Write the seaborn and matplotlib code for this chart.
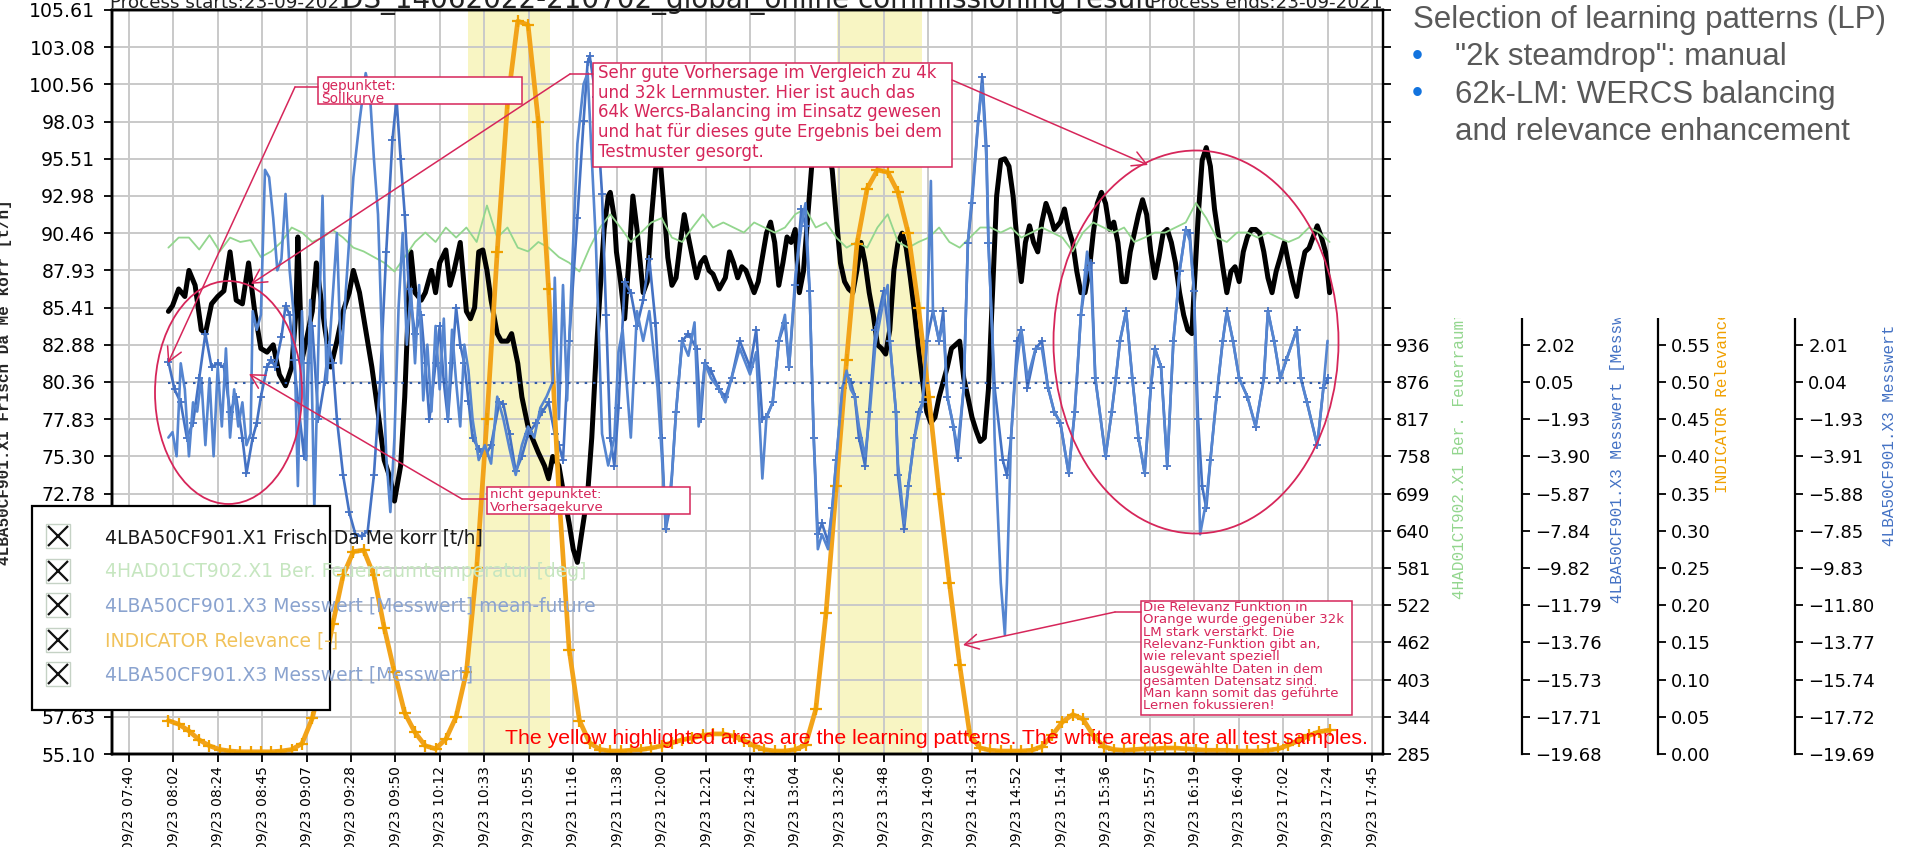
import numpy as np
import pandas as pd
import matplotlib
matplotlib.use("Agg")
import matplotlib.pyplot as plt
import seaborn as sns
from matplotlib.patches import Rectangle, Ellipse, FancyArrowPatch
from matplotlib.lines import Line2D
from matplotlib.legend_handler import HandlerTuple

# ---------------------------------------------------------------- data
tick_labels = ["09/23 07:40", "09/23 08:02", "09/23 08:24", "09/23 08:45", "09/23 09:07",
               "09/23 09:28", "09/23 09:50", "09/23 10:12", "09/23 10:33", "09/23 10:55",
               "09/23 11:16", "09/23 11:38", "09/23 12:00", "09/23 12:21", "09/23 12:43",
               "09/23 13:04", "09/23 13:26", "09/23 13:48", "09/23 14:09", "09/23 14:31",
               "09/23 14:52", "09/23 15:14", "09/23 15:36", "09/23 15:57", "09/23 16:19",
               "09/23 16:40", "09/23 17:02", "09/23 17:24", "09/23 17:45"]
first_tick = "07:40:50"
tick_step_min = 21.6

learning_windows = [("10:25:54", "11:05:40"), ("13:25:26", "14:06:52")]

# 4LBA50CF901.X1 Frisch Da Me korr [t/h]
flow_readings = [
    ("08:00", 85.15), ("08:02", 85.53), ("08:05", 86.67), ("08:08", 86.16), ("08:10", 87.93),
    ("08:13", 86.92), ("08:16", 83.89), ("08:18", 83.64), ("08:21", 85.66), ("08:24", 86.16),
    ("08:27", 86.54), ("08:30", 89.19), ("08:33", 85.91), ("08:36", 85.66), ("08:39", 88.44),
    ("08:42", 85.15), ("08:45", 82.63), ("08:48", 82.38), ("08:51", 82.88), ("08:54", 80.86),
    ("08:57", 80.10), ("09:00", 81.37), ("09:02", 85.00), ("09:03", 90.20), ("09:05", 81.87),
    ("09:07", 83.13), ("09:10", 85.15), ("09:12", 88.44), ("09:16", 84.14), ("09:19", 81.37),
    ("09:22", 83.13), ("09:25", 85.15), ("09:28", 86.42), ("09:30", 87.93), ("09:33", 86.42),
    ("09:36", 83.89), ("09:39", 81.37), ("09:42", 78.33), ("09:45", 75.05), ("09:48", 73.79),
    ("09:50", 72.27), ("09:53", 74.67), ("09:55", 79.34), ("09:57", 86.42), ("09:58", 89.19),
    ("10:00", 86.42), ("10:03", 85.91), ("10:05", 86.42), ("10:08", 87.93), ("10:10", 86.42),
    ("10:12", 88.44), ("10:15", 89.32), ("10:17", 86.92), ("10:19", 87.93), ("10:22", 89.83),
    ("10:25", 85.15), ("10:27", 84.65), ("10:29", 85.41), ("10:31", 89.19), ("10:33", 89.32),
    ("10:35", 87.93), ("10:37", 85.91), ("10:40", 83.64), ("10:42", 83.13), ("10:45", 83.13),
    ("10:47", 83.64), ("10:50", 81.62), ("10:52", 79.34), ("10:55", 77.32), ("10:57", 76.57),
    ("11:00", 75.56), ("11:03", 74.67), ("11:05", 73.79), ("11:07", 75.30), ("11:10", 74.67),
    ("11:12", 73.03), ("11:15", 70.76), ("11:17", 68.99), ("11:19", 68.11), ("11:21", 70.00),
    ("11:24", 72.78), ("11:26", 76.57), ("11:28", 81.87), ("11:30", 86.42), ("11:32", 90.71),
    ("11:34", 92.98), ("11:35", 93.23), ("11:37", 91.47), ("11:38", 89.19), ("11:40", 87.17),
    ("11:42", 84.65), ("11:44", 88.50), ("11:46", 92.98), ("11:48", 90.71), ("11:51", 86.42),
    ("11:53", 87.17), ("11:55", 91.47), ("11:57", 94.75), ("11:59", 96.00), ("12:01", 92.48),
    ("12:03", 88.81), ("12:05", 86.92), ("12:07", 87.43), ("12:09", 89.70), ("12:11", 91.72),
    ("12:13", 90.20), ("12:15", 88.81), ("12:17", 87.43), ("12:19", 88.44), ("12:21", 88.81),
    ("12:23", 87.93), ("12:25", 87.68), ("12:28", 86.67), ("12:31", 87.43), ("12:33", 89.19),
    ("12:35", 88.44), ("12:37", 87.43), ("12:39", 88.18), ("12:41", 87.93), ("12:43", 87.17),
    ("12:45", 86.42), ("12:47", 87.17), ("12:49", 88.81), ("12:51", 90.46), ("12:53", 91.21),
    ("12:55", 89.83), ("12:57", 86.92), ("12:59", 88.44), ("13:01", 90.20), ("13:03", 89.83),
    ("13:05", 90.71), ("13:07", 86.42), ("13:09", 87.86), ("13:11", 91.47), ("13:13", 95.00),
    ("13:16", 99.30), ("13:20", 96.77), ("13:23", 94.75), ("13:25", 91.47), ("13:27", 88.44),
    ("13:29", 87.17), ("13:31", 86.67), ("13:33", 86.42), ("13:35", 87.93), ("13:37", 89.83),
    ("13:39", 88.44), ("13:41", 86.42), ("13:43", 84.90), ("13:45", 82.88), ("13:47", 82.63),
    ("13:49", 82.25), ("13:51", 83.89), ("13:53", 87.93), ("13:55", 89.83), ("13:57", 90.46),
    ("13:59", 89.45), ("14:01", 87.43), ("14:03", 85.15), ("14:05", 82.63), ("14:07", 80.36),
    ("14:09", 78.33), ("14:11", 77.58), ("14:13", 77.96), ("14:15", 79.34), ("14:17", 80.36),
    ("14:19", 81.37), ("14:21", 82.63), ("14:23", 82.88), ("14:25", 83.13), ("14:27", 80.61),
    ("14:29", 79.34), ("14:31", 77.96), ("14:33", 77.07), ("14:35", 76.32), ("14:37", 76.57),
    ("14:39", 79.85), ("14:41", 86.42), ("14:43", 92.98), ("14:45", 95.41), ("14:47", 95.51),
    ("14:49", 95.00), ("14:51", 92.98), ("14:53", 89.83), ("14:55", 87.17), ("14:57", 89.83),
    ("14:59", 90.96), ("15:01", 89.83), ("15:03", 89.19), ("15:05", 91.21), ("15:07", 92.48),
    ("15:09", 91.72), ("15:11", 90.71), ("15:14", 91.21), ("15:16", 92.10), ("15:18", 90.71),
    ("15:20", 89.83), ("15:22", 87.86), ("15:24", 86.42), ("15:26", 86.42), ("15:28", 87.86),
    ("15:30", 90.46), ("15:32", 92.48), ("15:34", 93.23), ("15:36", 92.48), ("15:38", 90.71),
    ("15:40", 91.21), ("15:42", 89.83), ("15:44", 87.17), ("15:46", 87.17), ("15:48", 89.19),
    ("15:50", 90.46), ("15:52", 91.72), ("15:54", 92.73), ("15:56", 91.72), ("15:58", 89.19),
    ("16:00", 87.43), ("16:02", 88.81), ("16:04", 90.46), ("16:06", 90.71), ("16:08", 89.83),
    ("16:10", 88.44), ("16:12", 86.42), ("16:14", 84.90), ("16:16", 83.89), ("16:18", 83.64),
    ("16:19", 86.42), ("16:21", 91.47), ("16:23", 95.41), ("16:25", 96.27), ("16:27", 95.00),
    ("16:29", 92.10), ("16:31", 90.20), ("16:33", 88.18), ("16:35", 86.42), ("16:37", 87.86),
    ("16:39", 88.18), ("16:41", 87.17), ("16:43", 89.19), ("16:45", 90.20), ("16:47", 90.71),
    ("16:49", 90.71), ("16:51", 90.46), ("16:53", 89.19), ("16:55", 87.43), ("16:57", 86.42),
    ("16:59", 87.86), ("17:01", 88.81), ("17:03", 89.83), ("17:05", 88.44), ("17:07", 87.17),
    ("17:09", 86.16), ("17:11", 87.86), ("17:13", 89.19), ("17:15", 89.45), ("17:17", 90.20),
    ("17:19", 90.96), ("17:21", 90.20), ("17:23", 89.19), ("17:25", 86.42)]

# 4HAD01CT902.X1 Ber. Feuerraumtemperatur [deg], every 5 min from 08:00
temp_start = "08:00"
temp_values = [
    1090, 1106, 1106, 1087, 1110, 1084, 1106, 1099, 1102, 1075, 1084, 1099,
    1122, 1114, 1099, 1106, 1118, 1106, 1090, 1084, 1075, 1066, 1052, 1075,
    1099, 1114, 1099, 1122, 1106, 1122, 1099, 1157, 1106, 1122, 1090, 1084,
    1099, 1090, 1075, 1066, 1052, 1090, 1122, 1143, 1122, 1099, 1114, 1130,
    1137, 1106, 1099, 1122, 1143, 1122, 1130, 1122, 1114, 1130, 1122, 1114,
    1122, 1143, 1152, 1122, 1130, 1106, 1090, 1099, 1090, 1122, 1143, 1099,
    1090, 1099, 1106, 1122, 1099, 1090, 1106, 1122, 1122, 1114, 1122, 1106,
    1114, 1122, 1114, 1106, 1084, 1114, 1130, 1122, 1114, 1122, 1099, 1106,
    1114, 1114, 1122, 1130, 1161, 1137, 1106, 1099, 1114, 1114, 1106, 1114,
    1106, 1099, 1106, 1122, 1114, 1099]

# INDICATOR Relevance [-], every 5 min from 08:00
relevance_start = "08:00"
relevance_values = [
    0.045, 0.040, 0.031, 0.019, 0.011, 0.006, 0.004, 0.003, 0.003, 0.003, 0.003, 0.004,
    0.006, 0.014, 0.048, 0.105, 0.175, 0.240, 0.272, 0.274, 0.240, 0.170, 0.110, 0.055,
    0.029, 0.011, 0.007, 0.020, 0.050, 0.110, 0.250, 0.450, 0.675, 0.875, 0.985, 0.980,
    0.850, 0.625, 0.350, 0.140, 0.045, 0.015, 0.006, 0.004, 0.004, 0.005, 0.006, 0.008,
    0.011, 0.015, 0.019, 0.022, 0.025, 0.027, 0.027, 0.024, 0.018, 0.011, 0.006, 0.004,
    0.004, 0.006, 0.012, 0.060, 0.190, 0.360, 0.530, 0.685, 0.760, 0.785, 0.782, 0.755,
    0.700, 0.600, 0.480, 0.350, 0.230, 0.120, 0.025, 0.008, 0.005, 0.004, 0.004, 0.004,
    0.005, 0.010, 0.025, 0.043, 0.053, 0.047, 0.025, 0.010, 0.006, 0.005, 0.006, 0.007,
    0.007, 0.008, 0.008, 0.007, 0.006, 0.005, 0.005, 0.005, 0.004, 0.004, 0.004, 0.005,
    0.007, 0.012, 0.018, 0.025, 0.030, 0.032]

# 4LBA50CF901.X3 Messwert [Messwert] mean-future
pred_readings = [
    ("08:00", 1.13), ("08:03", -0.35), ("08:06", -1.04), ("08:09", -2.91), ("08:12", -2.12),
    ("08:15", 0.24), ("08:18", 2.61), ("08:21", 0.84), ("08:24", 1.03), ("08:27", 0.84),
    ("08:30", -1.53), ("08:33", -0.74), ("08:36", -2.91), ("08:38", -4.79), ("08:41", -2.91),
    ("08:43", -2.12), ("08:45", -0.74), ("08:48", 0.84), ("08:50", 1.23), ("08:52", 0.84),
    ("08:55", 2.41), ("08:57", 4.09), ("08:59", 3.60), ("09:01", 1.23), ("09:03", -0.94),
    ("09:06", -3.90), ("09:08", 1.03), ("09:10", 3.01), ("09:13", -1.93), ("09:16", 0.05),
    ("09:18", 2.02), ("09:20", 1.03), ("09:22", -1.93), ("09:25", -4.89), ("09:28", -6.86),
    ("09:31", -8.04), ("09:34", -8.14), ("09:37", -7.84), ("09:40", -4.89), ("09:43", 0.05),
    ("09:46", 6.95), ("09:49", 12.87), ("09:51", 15.04), ("09:53", 11.88), ("09:55", 8.92),
    ("09:57", 4.98), ("10:00", 2.61), ("10:03", 3.60), ("10:05", 1.03), ("10:07", -1.93),
    ("10:10", 1.03), ("10:12", 3.01), ("10:14", 0.05), ("10:16", -1.93), ("10:18", 1.03),
    ("10:20", 3.99), ("10:22", 2.02), ("10:24", 1.03), ("10:26", -0.94), ("10:28", -2.91),
    ("10:31", -3.50), ("10:34", -3.90), ("10:37", -3.31), ("10:41", -1.04), ("10:43", -1.14),
    ("10:46", -2.71), ("10:49", -4.69), ("10:52", -3.90), ("10:55", -2.71), ("10:59", -2.12),
    ("11:02", -1.53), ("11:05", -1.04), ("11:08", -2.71), ("11:10", -3.31), ("11:12", -4.10),
    ("11:15", 2.22), ("11:19", 8.73), ("11:22", 13.86), ("11:24", 17.01), ("11:25", 17.33),
    ("11:28", 15.14), ("11:31", 10.01), ("11:33", 3.60), ("11:35", -2.91), ("11:37", -4.39),
    ("11:39", -1.33), ("11:42", 5.37), ("11:45", 4.78), ("11:48", 3.01), ("11:51", 4.39),
    ("11:54", 6.56), ("11:57", 3.20), ("12:00", -2.91), ("12:02", -7.75), ("12:04", -6.66),
    ("12:07", -1.53), ("12:10", 2.22), ("12:13", 2.61), ("12:17", 1.82), ("12:19", -1.93),
    ("12:21", 1.03), ("12:24", 0.64), ("12:28", -0.35), ("12:31", -0.74), ("12:34", 0.24),
    ("12:38", 2.22), ("12:43", 0.84), ("12:46", 2.81), ("12:49", -1.93), ("12:51", -1.83),
    ("12:54", -1.04), ("12:57", 2.22), ("13:00", 3.20), ("13:02", 0.84), ("13:05", 5.18),
    ("13:08", 9.22), ("13:10", 8.33), ("13:12", 4.88), ("13:14", -2.91), ("13:16", -8.04),
    ("13:18", -7.45), ("13:21", -8.44), ("13:23", -6.66), ("13:25", -4.10), ("13:28", -0.25),
    ("13:30", 0.44), ("13:32", 0.05), ("13:34", -0.74), ("13:36", -2.91), ("13:39", -4.39),
    ("13:41", -1.53), ("13:44", 2.81), ("13:48", 4.88), ("13:51", 2.22), ("13:54", -1.53),
    ("13:55", -4.89), ("13:58", -7.75), ("14:00", -5.48), ("14:03", -2.91), ("14:05", -1.53),
    ("14:07", -1.04), ("14:09", 2.22), ("14:12", 3.80), ("14:15", 2.22), ("14:17", 3.80),
    ("14:19", -0.74), ("14:22", -2.32), ("14:24", -4.00), ("14:27", -0.25), ("14:29", 7.44),
    ("14:31", 9.52), ("14:34", 13.86), ("14:36", 16.22), ("14:38", 12.57), ("14:39", 7.44),
    ("14:42", -0.25), ("14:46", -4.10), ("14:48", -4.89), ("14:50", -2.91), ("14:53", 2.22),
    ("14:55", 2.81), ("14:58", -0.25), ("15:02", 1.82), ("15:05", 2.22), ("15:08", -0.25),
    ("15:11", -1.53), ("15:14", -2.12), ("15:18", -4.79), ("15:21", -1.53), ("15:24", 3.60),
    ("15:27", 5.96), ("15:29", 6.36), ("15:31", 0.24), ("15:36", -3.90), ("15:39", -1.53),
    ("15:41", 0.24), ("15:43", 2.22), ("15:46", 3.80), ("15:49", 0.24), ("15:52", -2.91),
    ("15:55", -4.79), ("15:58", -0.25), ("16:00", 1.82), ("16:03", 0.84), ("16:06", -4.39),
    ("16:09", 2.22), ("16:12", 5.91), ("16:15", 8.13), ("16:17", 7.94), ("16:19", 4.88),
    ("16:21", -1.93), ("16:23", -5.48), ("16:25", -6.66), ("16:27", -4.10), ("16:30", -0.74),
    ("16:33", 2.22), ("16:35", 3.80), ("16:38", 2.22), ("16:41", 0.24), ("16:45", -0.74),
    ("16:49", -2.32), ("16:53", 0.24), ("16:55", 3.80), ("16:58", 2.22), ("17:01", 0.24),
    ("17:04", 1.23), ("17:09", 2.81), ("17:11", 0.24), ("17:14", -1.04), ("17:19", -3.31),
    ("17:22", -0.25), ("17:24", 0.24)]

# 4LBA50CF901.X3 Messwert [Messwert]
meas_readings = [
    ("08:00", -2.91), ("08:02", -2.62), ("08:04", -3.90), ("08:06", 1.03), ("08:08", -0.35),
    ("08:10", -3.90), ("08:12", -1.04), ("08:14", -1.53), ("08:16", 0.24), ("08:18", -3.31),
    ("08:20", 0.24), ("08:22", -3.90), ("08:24", 0.84), ("08:26", -2.32), ("08:28", 1.82),
    ("08:30", -2.91), ("08:32", -0.35), ("08:34", -2.32), ("08:36", -1.04), ("08:38", -3.31),
    ("08:40", -2.71), ("08:41", 3.80), ("08:43", 2.81), ("08:45", 3.60), ("08:47", 11.29),
    ("08:49", 10.90), ("08:51", 8.73), ("08:53", 5.96), ("08:55", 6.56), ("08:57", 10.01),
    ("08:59", 5.96), ("09:01", 3.60), ("09:03", -5.48), ("09:05", 3.80), ("09:07", -4.10),
    ("09:09", 4.39), ("09:11", -6.66), ("09:13", 2.02), ("09:15", 9.91), ("09:17", 0.05),
    ("09:19", 3.01), ("09:22", 7.94), ("09:24", 1.03), ("09:27", 5.96), ("09:30", 10.90),
    ("09:33", 13.86), ("09:36", 16.42), ("09:38", 15.43), ("09:40", 11.88), ("09:42", 8.92),
    ("09:44", 2.02), ("09:46", -3.90), ("09:48", -6.86), ("09:50", -2.91), ("09:52", 3.99),
    ("09:54", 7.94), ("09:56", 2.02), ("09:58", 4.98), ("10:00", 1.03), ("10:02", 5.18),
    ("10:04", -0.94), ("10:06", 2.02), ("10:08", -1.53), ("10:10", 3.01), ("10:12", -0.35),
    ("10:14", 3.40), ("10:16", -1.93), ("10:18", 2.81), ("10:20", 0.05), ("10:22", -2.32),
    ("10:24", 2.02), ("10:26", 0.64), ("10:28", -1.93), ("10:31", -4.10), ("10:34", -3.31),
    ("10:37", -4.29), ("10:40", -0.74), ("10:43", -1.93), ("10:46", -3.50), ("10:49", -4.89),
    ("10:52", -3.31), ("10:55", -2.32), ("10:58", -2.91), ("11:01", -1.33), ("11:04", -0.74),
    ("11:07", 0.05), ("11:08", 5.57), ("11:10", -1.93), ("11:12", 5.18), ("11:14", -0.94),
    ("11:16", 4.98), ("11:19", 12.67), ("11:22", 15.83), ("11:24", 16.42), ("11:26", 11.88),
    ("11:28", 7.44), ("11:31", -2.71), ("11:34", -4.39), ("11:37", -2.91), ("11:39", 1.62),
    ("11:41", 2.81), ("11:45", -2.91), ("11:48", 3.80), ("11:51", 2.22), ("11:54", 3.80),
    ("11:58", -0.25), ("12:01", -5.48), ("12:02", -7.75), ("12:05", -4.89), ("12:07", -1.53),
    ("12:10", 2.22), ("12:13", 1.43), ("12:16", 3.20), ("12:18", -2.32), ("12:21", 1.03),
    ("12:24", 0.24), ("12:28", -0.35), ("12:31", -1.04), ("12:34", 0.24), ("12:38", 1.82),
    ("12:43", 0.44), ("12:46", 1.62), ("12:49", -5.08), ("12:51", -1.83), ("12:54", -1.04),
    ("12:57", 2.22), ("13:00", 3.60), ("13:02", 0.84), ("13:05", 5.57), ("13:08", 8.33),
    ("13:10", 9.52), ("13:12", 4.88), ("13:14", -2.91), ("13:16", -8.83), ("13:18", -8.04),
    ("13:21", -8.83), ("13:23", -6.66), ("13:25", -4.10), ("13:28", -0.25), ("13:30", 0.64),
    ("13:32", -0.35), ("13:34", -0.74), ("13:36", -2.32), ("13:39", -3.90), ("13:41", -1.93),
    ("13:44", 2.02), ("13:48", 4.39), ("13:50", 5.18), ("13:51", 2.22), ("13:54", -1.53),
    ("13:55", -4.29), ("13:58", -7.45), ("14:00", -5.48), ("14:03", -2.91), ("14:05", -1.93),
    ("14:07", -1.04), ("14:09", 2.22), ("14:11", 10.70), ("14:12", 3.80), ("14:15", 2.22),
    ("14:17", 3.20), ("14:19", -0.74), ("14:22", -2.32), ("14:24", -3.50), ("14:27", -0.25),
    ("14:29", 7.44), ("14:31", 9.91), ("14:34", 13.86), ("14:36", 15.83), ("14:38", 11.88),
    ("14:39", 7.44), ("14:41", 2.22), ("14:42", -2.91), ("14:45", -10.61), ("14:47", -13.37),
    ("14:48", -10.61), ("14:50", -2.91), ("14:52", 0.24), ("14:55", 2.81), ("14:58", 0.24),
    ("15:02", 1.82), ("15:05", 1.82), ("15:08", -0.25), ("15:11", -1.53), ("15:14", -2.12),
    ("15:18", -4.79), ("15:21", -1.53), ("15:24", 3.60), ("15:27", 6.95), ("15:29", 5.37),
    ("15:31", 0.24), ("15:36", -3.90), ("15:39", -1.53), ("15:41", 0.24), ("15:43", 2.22),
    ("15:46", 3.80), ("15:49", 0.24), ("15:52", -2.91), ("15:55", -4.79), ("15:58", -0.25),
    ("16:00", 1.82), ("16:03", 0.84), ("16:06", -4.39), ("16:09", 2.22), ("16:12", 5.91),
    ("16:15", 8.13), ("16:17", 7.54), ("16:19", 4.88), ("16:22", -8.04), ("16:25", -6.27),
    ("16:27", -4.10), ("16:30", -0.74), ("16:33", 2.22), ("16:35", 3.80), ("16:38", 2.22),
    ("16:41", 0.24), ("16:45", -0.74), ("16:49", -2.32), ("16:53", 0.24), ("16:55", 3.80),
    ("16:58", 2.22), ("17:01", 0.24), ("17:04", 1.23), ("17:09", 2.81), ("17:11", 0.24),
    ("17:14", -1.04), ("17:19", -3.31), ("17:22", -0.25), ("17:24", 2.22)]

# setpoint (dotted) on the Messwert scale
setpoint_span = ("08:00", "17:25")
setpoint_value = 0.0

legend_labels = ["4LBA50CF901.X1 Frisch Da Me korr [t/h]",
                 "4HAD01CT902.X1 Ber. Feuerraumtemperatur [deg]",
                 "4LBA50CF901.X3 Messwert [Messwert] mean-future",
                 "INDICATOR Relevance [-]",
                 "4LBA50CF901.X3 Messwert [Messwert]"]

header_left = "Process starts:23-09-2021"
header_mid = "DS_14062022-210702_global_online commissioning result"
header_right = "Process ends:23-09-2021"

# axis scales: (lower limit, tick step) with 21 ticks each
main_scale = (55.10, 2.52551)
temp_scale = (285.0, 59.14)
pred_scale = (-19.68, 1.9726)
rel_scale = (0.0, 0.05)
meas_scale = (-19.69, 1.9728)

# ---------------------------------------------------------------- helpers
W, H = 1905, 847


def minutes(hhmm):
    parts = [int(p) for p in hhmm.split(":")]
    while len(parts) < 3:
        parts.append(0)
    return parts[0] * 60 + parts[1] + parts[2] / 60.0


def pairs_frame(readings):
    return pd.DataFrame({"t": [minutes(t) for t, _ in readings],
                         "v": [v for _, v in readings]})


def regular_frame(start, values, step=5):
    return pd.DataFrame({"t": minutes(start) + step * np.arange(len(values)),
                         "v": values})


def fx(x):
    return x / W


def fy(y):
    return 1 - y / H


def minus(s):
    return s.replace("-", "\u2212")


# ---------------------------------------------------------------- style
sns.set_theme(style="white")
plt.rcParams["font.family"] = ["DejaVu Sans"]
plt.rcParams["axes.edgecolor"] = "black"
plt.rcParams["axes.linewidth"] = 1.6

C_RED = "#d6265a"
C_BLUE_P = "#4472c4"
C_BLUE_M = "#5585d0"
C_ORANGE = "#f2a31a"
C_GREEN = "#93d68e"
MONO = ["Liberation Mono", "DejaVu Sans Mono"]

fig = plt.figure(figsize=(W / 100, H / 100), dpi=100)
L, R, T, B = 112, 1383, 10, 754
ax = fig.add_axes([fx(L), fy(B), (R - L) / W, (B - T) / H])

# time axis
t0 = minutes(first_tick)
px_per_min = (1372 - 129) / 28 / tick_step_min
ax.set_xlim(t0 - (129 - L) / px_per_min, t0 + (R - 129) / px_per_min)
ax.set_xticks(t0 + tick_step_min * np.arange(len(tick_labels)))
ax.set_xticklabels(tick_labels, rotation=90, fontsize=10)

lo, st = main_scale
ax.set_ylim(lo, lo + 20 * st)
yt = lo + st * np.arange(21)
ax.set_yticks(yt)
ax.set_yticklabels([f"{v:.2f}" for v in yt], fontsize=13.6)
ax.tick_params(axis="both", length=6, width=1.3, direction="out",
               colors="black", left=True, bottom=True)
ax.tick_params(axis="x", pad=2.5)
ax.tick_params(axis="y", pad=6)
ax.grid(True, color="#c9c9c9", lw=1.4)
ax.set_axisbelow(True)

for a, b in learning_windows:
    ax.axvspan(minutes(a), minutes(b), color="#f8f5c3", zorder=0.5, lw=0)

flow = pairs_frame(flow_readings)
sns.lineplot(data=flow, x="t", y="v", ax=ax, color="black", lw=3.6,
             estimator=None, sort=False, legend=False)
ax.set_xlabel("")
ax.set_ylabel(legend_labels[0], family=MONO, fontsize=11.5, fontweight="bold")
ax.yaxis.set_label_coords((12 - L) / (R - L), 0.5)

# twin scales
ax_t = ax.twinx()
ax_p = ax.twinx()
ax_r = ax.twinx()
ax_m = ax.twinx()
twins = [
    (ax_t, temp_scale, "{:.0f}", C_GREEN, legend_labels[1], R, 1452),
    (ax_p, pred_scale, "{:.2f}", C_BLUE_P, legend_labels[2], 1522, 1610),
    (ax_r, rel_scale, "{:.2f}", "#f0a000", legend_labels[3], 1658, 1715),
    (ax_m, meas_scale, "{:.2f}", C_BLUE_P, legend_labels[4], 1795, 1882),
]
for tw, (lo, st), fmt, col, lab, spine_px, lab_px in twins:
    tw.set_ylim(lo, lo + 20 * st)
    tv = lo + st * np.arange(21)
    tw.set_yticks(tv)
    tw.set_yticklabels([minus(fmt.format(v)) for v in tv])
    tw.tick_params(axis="y", labelsize=13, length=6, width=1.3, colors="black",
                   right=True, direction="out")
    tw.spines["right"].set_position(("axes", (spine_px - L) / (R - L)))
    tw.spines["right"].set_linewidth(1.6)
    tw.set_ylabel(lab, family=MONO, fontsize=11.5, color=col)
    tw.yaxis.set_label_coords((lab_px - L) / (R - L), 0.5)
    tw.grid(False)

temp = regular_frame(temp_start, temp_values)
sns.lineplot(data=temp, x="t", y="v", ax=ax_t, color=C_GREEN, lw=1.3,
             estimator=None, sort=False, legend=False)

pred = pairs_frame(pred_readings)
sns.lineplot(data=pred, x="t", y="v", ax=ax_p, color=C_BLUE_P, lw=1.9,
             marker="+", markersize=6, markeredgewidth=1.3, markeredgecolor=C_BLUE_P,
             estimator=None, sort=False, legend=False)

rel = regular_frame(relevance_start, relevance_values)
sns.lineplot(data=rel, x="t", y="v", ax=ax_r, color=C_ORANGE, lw=3.4,
             marker="+", markersize=8, markeredgewidth=1.6, markeredgecolor="#f0a000",
             estimator=None, sort=False, legend=False)

meas = pairs_frame(meas_readings)
sns.lineplot(data=meas, x="t", y="v", ax=ax_m, color=C_BLUE_M, lw=1.9,
             estimator=None, sort=False, legend=False)
ax_m.plot([minutes(setpoint_span[0]), minutes(setpoint_span[1])],
          [setpoint_value, setpoint_value], color="#2f5aa8", lw=1.5,
          ls=(0, (1.2, 2.8)))
for tw in (ax_t, ax_p, ax_r, ax_m):
    tw.set_xlabel("")

# ---------------------------------------------------------------- overlays
# white panel behind the note in the upper right
fig.add_artist(Rectangle((fx(1391), fy(318)), (W - 1391) / W, 318 / H,
                         transform=fig.transFigure, fc="white", ec="none", zorder=11))
SANS = ["Liberation Sans", "DejaVu Sans"]
fig.text(fx(1413), fy(28), "Selection of learning patterns (LP)", fontsize=22.5,
         family=SANS, color="#595959", va="baseline", zorder=12)
note_lines = [('"2k steamdrop": manual', True),
              ("62k-LM: WERCS balancing", True),
              ("and relevance enhancement", False)]
for i, (line, bullet) in enumerate(note_lines):
    yb = 65 + 37.5 * i
    if bullet:
        fig.text(fx(1412), fy(yb), "\u2022", fontsize=22.5, color="#1273de",
                 family=SANS, va="baseline", zorder=12)
    fig.text(fx(1455), fy(yb), line, fontsize=22.5, color="#595959",
             family=SANS, va="baseline", zorder=12)

# header line, partly outside the canvas
fig.text(fx(L - 2), fy(8), header_left, fontsize=13.2, va="baseline",
         color="#222222", zorder=12)
fig.text(fx((L + R) / 2), fy(8), header_mid, fontsize=20, va="baseline", ha="center",
         color="#222222", zorder=12)
fig.text(fx(R), fy(8), header_right, fontsize=13.2, va="baseline",
         ha="right", color="#222222", zorder=12)

# legend panel
fig.add_artist(Rectangle((fx(32), fy(710)), (330 - 32) / W, (710 - 506) / H,
                         transform=fig.transFigure, fc="white", ec="black", lw=1.6,
                         zorder=11))


def check_box():
    sq = Line2D([], [], ls="", marker="s", ms=17, mfc="none", mec="#c5d2c5", mew=1.0)
    xx = Line2D([], [], ls="", marker="x", ms=15, mew=1.6, color="#111111")
    return (sq, xx)


leg = fig.legend([check_box() for _ in legend_labels], legend_labels, loc="upper left",
                 bbox_to_anchor=(fx(39), fy(528)), frameon=False, fontsize=13.5,
                 handler_map={tuple: HandlerTuple(ndivide=1)}, handlelength=2.0,
                 handletextpad=1.52, labelspacing=0.82, borderpad=0, borderaxespad=0)
leg.set_zorder(12)
for txt, col in zip(leg.get_texts(), ["#1a1a1a", "#c6e6c0", "#8aa3cf", "#f1c25a", "#8aa3cf"]):
    txt.set_color(col)


# annotation boxes
def note_box(x0, y0, x1, y1):
    fig.add_artist(Rectangle((fx(x0), fy(y1)), (x1 - x0) / W, (y1 - y0) / H,
                             transform=fig.transFigure, fc="white", ec=C_RED, lw=1.1,
                             zorder=11))


def leader(points):
    xs = [fx(p[0]) for p in points[:-1]]
    ys = [fy(p[1]) for p in points[:-1]]
    if len(points) > 2:
        fig.add_artist(Line2D(xs, ys, transform=fig.transFigure, color=C_RED, lw=1.1,
                              zorder=12))
    a, b = points[-2], points[-1]
    fig.add_artist(FancyArrowPatch((fx(a[0]), fy(a[1])), (fx(b[0]), fy(b[1])),
                                   transform=fig.transFigure, color=C_RED, lw=1.1,
                                   arrowstyle="->,head_length=0.55,head_width=0.3",
                                   mutation_scale=18, shrinkA=0, shrinkB=0, zorder=12))


note_box(318, 77, 522, 104)
fig.text(fx(321), fy(78.5), "gepunktet:\nSollkurve", fontsize=9.8, color=C_RED,
         va="top", linespacing=0.95, zorder=12)
leader([(318, 87), (295, 87), (168, 363)])

note_box(593, 63, 952, 167)
fig.text(fx(598), fy(64),
         "Sehr gute Vorhersage im Vergleich zu 4k\nund 32k Lernmuster. Hier ist auch das\n"
         "64k Wercs-Balancing im Einsatz gewesen\nund hat für dieses gute Ergebnis bei dem\n"
         "Testmuster gesorgt.", fontsize=12, color=C_RED, va="top", linespacing=1.12,
         zorder=12)
leader([(593, 74), (570, 74), (251, 284)])
leader([(952, 80), (1148, 165)])

note_box(487, 487, 690, 514)
fig.text(fx(490), fy(488), "nicht gepunktet:\nVorhersagekurve", fontsize=9.6, color=C_RED,
         va="top", linespacing=0.95, zorder=12)
leader([(487, 499), (462, 499), (249, 374)])

note_box(1141, 601, 1352, 715)
fig.text(fx(1143), fy(601),
         "Die Relevanz Funktion in\nOrange wurde gegenüber 32k\nLM stark verstärkt. Die\n"
         "Relevanz-Funktion gibt an,\nwie relevant speziell\nausgewählte Daten in dem\n"
         "gesamten Datensatz sind.\nMan kann somit das geführte\nLernen fokussieren!",
         fontsize=9.5, color=C_RED, va="top", linespacing=0.93, zorder=12)
leader([(1141, 612), (1115, 612), (963, 645)])

for cx, cy, w, h in [(228.5, 392.5, 147, 223), (1196, 342, 285, 383)]:
    fig.add_artist(Ellipse((fx(cx), fy(cy)), w / W, h / H, transform=fig.transFigure,
                           fill=False, ec=C_RED, lw=1.3, zorder=12))

fig.text(fx(505), fy(738),
         "The yellow highlighted areas are the learning patterns. "
         "The white areas are all test samples.",
         fontsize=15.3, color="#ff0000", va="center",
         family=["Liberation Sans Narrow", "Liberation Sans", "DejaVu Sans"], zorder=12)

fig.savefig("out.png", dpi=100)
